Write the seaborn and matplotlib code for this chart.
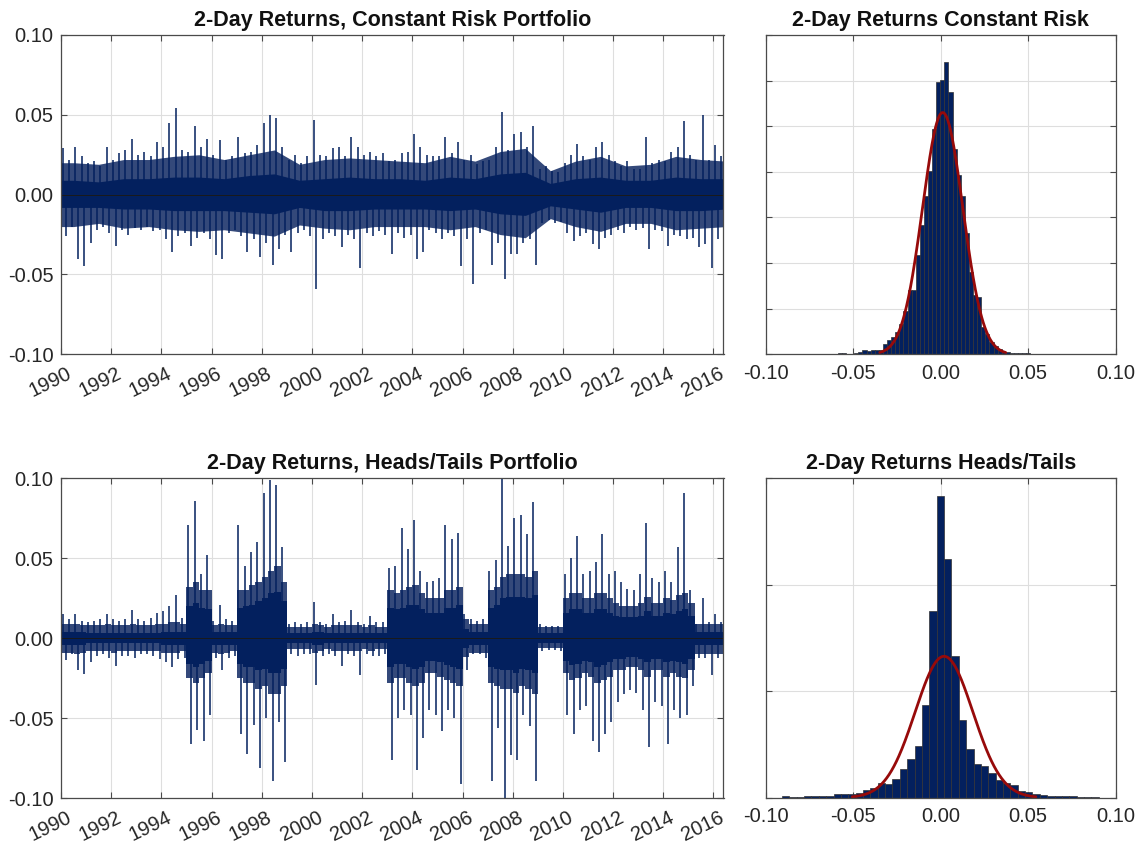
import numpy as np
import pandas as pd
import matplotlib
matplotlib.use("Agg")
import matplotlib.pyplot as plt
import seaborn as sns
from matplotlib.transforms import ScaledTranslation

# ---------------- data ----------------
# quarterly extremes of the 2-day return series, 1990Q1 .. 2016Q2
cr_hi = [0.029, 0.022, 0.030, 0.024, 0.020, 0.021, 0.018, 0.030, 0.022, 0.026,
         0.028, 0.035, 0.025, 0.027, 0.024, 0.033, 0.030, 0.045, 0.054, 0.028,
         0.027, 0.043, 0.030, 0.035, 0.025, 0.034, 0.022, 0.024, 0.036, 0.026,
         0.027, 0.031, 0.045, 0.050, 0.048, 0.030, 0.022, 0.025, 0.020, 0.024,
         0.047, 0.025, 0.024, 0.029, 0.030, 0.024, 0.036, 0.030, 0.025, 0.027,
         0.024, 0.026, 0.021, 0.022, 0.026, 0.027, 0.038, 0.030, 0.025, 0.024,
         0.024, 0.036, 0.026, 0.033, 0.022, 0.025, 0.019, 0.021, 0.022, 0.030,
         0.052, 0.028, 0.038, 0.039, 0.030, 0.043, 0.016, 0.018, 0.015, 0.014,
         0.020, 0.025, 0.032, 0.024, 0.022, 0.030, 0.033, 0.025, 0.021, 0.018,
         0.021, 0.016, 0.016, 0.036, 0.020, 0.022, 0.021, 0.027, 0.030, 0.046,
         0.025, 0.022, 0.050, 0.022, 0.031, 0.024]
cr_lo = [-0.026, -0.020, -0.040, -0.045, -0.030, -0.022, -0.020, -0.024, -0.032, -0.022,
         -0.025, -0.021, -0.022, -0.020, -0.023, -0.022, -0.028, -0.036, -0.026, -0.024,
         -0.032, -0.027, -0.024, -0.028, -0.038, -0.040, -0.024, -0.022, -0.026, -0.036,
         -0.028, -0.039, -0.030, -0.044, -0.034, -0.025, -0.036, -0.024, -0.022, -0.026,
         -0.059, -0.028, -0.024, -0.026, -0.033, -0.025, -0.028, -0.046, -0.024, -0.026,
         -0.023, -0.025, -0.037, -0.024, -0.027, -0.025, -0.040, -0.036, -0.022, -0.024,
         -0.028, -0.024, -0.026, -0.045, -0.028, -0.056, -0.024, -0.022, -0.044, -0.030,
         -0.053, -0.037, -0.037, -0.030, -0.028, -0.044, -0.018, -0.016, -0.018, -0.017,
         -0.024, -0.029, -0.026, -0.024, -0.031, -0.034, -0.027, -0.025, -0.022, -0.024,
         -0.020, -0.022, -0.021, -0.034, -0.022, -0.023, -0.032, -0.025, -0.026, -0.028,
         -0.027, -0.033, -0.031, -0.046, -0.028, -0.026]
# constant-risk series, one value per year 1990..2016: solid core and busy middle zone
cr_core_hi = [0.009, 0.008, 0.010, 0.010, 0.011, 0.011, 0.010, 0.012, 0.013, 0.009,
              0.010, 0.011, 0.010, 0.010, 0.009, 0.011, 0.010, 0.013, 0.014, 0.007,
              0.010, 0.011, 0.009, 0.009, 0.011, 0.010, 0.010]
cr_core_lo = [-0.008, -0.008, -0.009, -0.009, -0.010, -0.010, -0.010, -0.011, -0.012, -0.008,
              -0.010, -0.010, -0.009, -0.009, -0.009, -0.010, -0.009, -0.012, -0.013, -0.007,
              -0.009, -0.011, -0.008, -0.008, -0.010, -0.010, -0.009]
cr_mid_hi = [0.020, 0.019, 0.022, 0.022, 0.024, 0.025, 0.022, 0.025, 0.028, 0.019,
             0.022, 0.023, 0.022, 0.021, 0.020, 0.024, 0.021, 0.027, 0.029, 0.015,
             0.021, 0.024, 0.018, 0.019, 0.024, 0.022, 0.021]
cr_mid_lo = [-0.020, -0.018, -0.021, -0.020, -0.022, -0.023, -0.022, -0.024, -0.026, -0.019,
             -0.021, -0.022, -0.020, -0.020, -0.020, -0.022, -0.020, -0.025, -0.027, -0.015,
             -0.020, -0.023, -0.018, -0.018, -0.022, -0.021, -0.020]

ht_hi = [0.015, 0.012, 0.015, 0.011, 0.010, 0.011, 0.012, 0.015, 0.012, 0.011,
         0.012, 0.018, 0.012, 0.011, 0.013, 0.016, 0.017, 0.020, 0.027, 0.013,
         0.071, 0.086, 0.040, 0.052,
         0.011, 0.021, 0.012, 0.011,
         0.071, 0.045, 0.054, 0.060, 0.091, 0.099, 0.096, 0.057,
         0.009, 0.010, 0.009, 0.010, 0.023, 0.010, 0.009, 0.015, 0.010, 0.011,
         0.018, 0.010, 0.009, 0.014, 0.010, 0.010,
         0.044, 0.045, 0.069, 0.056, 0.074, 0.042, 0.035, 0.036, 0.038, 0.071,
         0.062, 0.066, 0.015,
         0.012, 0.011, 0.012,
         0.042, 0.049, 0.105, 0.058, 0.075, 0.077, 0.065, 0.085,
         0.009, 0.008, 0.008, 0.008,
         0.040, 0.050, 0.064, 0.040, 0.042, 0.048, 0.065, 0.040, 0.042, 0.035,
         0.031, 0.030, 0.040, 0.072, 0.038, 0.035, 0.042, 0.035, 0.057, 0.091,
         0.030,
         0.009, 0.025, 0.010, 0.015, 0.010]
ht_lo = [-0.0135, -0.010, -0.020, -0.0225, -0.015, -0.011, -0.010, -0.012, -0.017, -0.011,
         -0.011, -0.012, -0.010, -0.010, -0.011, -0.013, -0.015, -0.018, -0.013, -0.012,
         -0.066, -0.057, -0.064, -0.048,
         -0.012, -0.020, -0.012, -0.011,
         -0.060, -0.072, -0.054, -0.081, -0.050, -0.089, -0.052, -0.077,
         -0.010, -0.011, -0.010, -0.010, -0.029, -0.011, -0.010, -0.011, -0.017, -0.010,
         -0.011, -0.023, -0.010, -0.011, -0.011, -0.010,
         -0.076, -0.050, -0.045, -0.048, -0.082, -0.062, -0.045, -0.048, -0.058, -0.045,
         -0.050, -0.091, -0.020,
         -0.010, -0.010, -0.012,
         -0.089, -0.056, -0.105, -0.073, -0.076, -0.048, -0.055, -0.089,
         -0.008, -0.007, -0.007, -0.008,
         -0.048, -0.060, -0.045, -0.042, -0.064, -0.071, -0.060, -0.052, -0.040, -0.035,
         -0.032, -0.034, -0.045, -0.068, -0.040, -0.042, -0.066, -0.045, -0.050, -0.048,
         -0.030,
         -0.0125, -0.012, -0.023, -0.012, -0.012]
# heads/tails series, one value per quarter: busy middle zone and solid core
ht_mid_hi = [0.009, 0.009, 0.009, 0.008, 0.008, 0.008, 0.008, 0.009, 0.008, 0.008,
             0.008, 0.009, 0.008, 0.008, 0.008, 0.009, 0.009, 0.010, 0.010, 0.009,
             0.032, 0.035, 0.030, 0.030,
             0.008, 0.009, 0.008, 0.008,
             0.030, 0.030, 0.033, 0.035, 0.038, 0.042, 0.045, 0.035,
             0.007, 0.007, 0.007, 0.007, 0.009, 0.008, 0.007, 0.008, 0.008, 0.008,
             0.008, 0.008, 0.007, 0.008, 0.007, 0.007,
             0.030, 0.028, 0.030, 0.032, 0.033, 0.028, 0.025, 0.025, 0.025, 0.030,
             0.030, 0.032, 0.012,
             0.009, 0.009, 0.009,
             0.030, 0.032, 0.038, 0.040, 0.040, 0.040, 0.038, 0.042,
             0.007, 0.007, 0.007, 0.007,
             0.025, 0.028, 0.028, 0.025, 0.025, 0.028, 0.028, 0.025, 0.022, 0.020,
             0.020, 0.020, 0.022, 0.026, 0.022, 0.022, 0.025, 0.024, 0.027, 0.028,
             0.022,
             0.009, 0.009, 0.009, 0.009, 0.009]
ht_mid_lo = [-0.009, -0.009, -0.010, -0.009, -0.008, -0.008, -0.008, -0.008, -0.009, -0.008,
             -0.008, -0.008, -0.008, -0.008, -0.008, -0.008, -0.009, -0.009, -0.009, -0.008,
             -0.025, -0.028, -0.025, -0.022,
             -0.009, -0.010, -0.009, -0.008,
             -0.025, -0.028, -0.028, -0.032, -0.030, -0.035, -0.035, -0.030,
             -0.007, -0.007, -0.007, -0.007, -0.009, -0.008, -0.007, -0.008, -0.008, -0.008,
             -0.008, -0.008, -0.007, -0.008, -0.007, -0.007,
             -0.028, -0.025, -0.025, -0.028, -0.030, -0.028, -0.022, -0.022, -0.024, -0.026,
             -0.028, -0.030, -0.012,
             -0.009, -0.009, -0.009,
             -0.028, -0.030, -0.032, -0.032, -0.034, -0.030, -0.032, -0.035,
             -0.006, -0.006, -0.006, -0.006,
             -0.022, -0.026, -0.025, -0.022, -0.024, -0.028, -0.026, -0.024, -0.020, -0.020,
             -0.018, -0.018, -0.020, -0.024, -0.020, -0.020, -0.024, -0.022, -0.024, -0.025,
             -0.020,
             -0.010, -0.010, -0.010, -0.010, -0.010]
ht_core_hi = [0.004, 0.004, 0.004, 0.004, 0.003, 0.003, 0.003, 0.003, 0.003, 0.003,
              0.003, 0.003, 0.003, 0.003, 0.003, 0.003, 0.004, 0.004, 0.004, 0.004,
              0.020, 0.022, 0.019, 0.018,
              0.004, 0.004, 0.004, 0.004,
              0.019, 0.020, 0.021, 0.023, 0.025, 0.028, 0.029, 0.023,
              0.003, 0.003, 0.003, 0.003, 0.004, 0.004, 0.003, 0.003, 0.003, 0.003,
              0.003, 0.003, 0.003, 0.003, 0.003, 0.003,
              0.019, 0.018, 0.019, 0.021, 0.021, 0.018, 0.016, 0.016, 0.016, 0.019,
              0.019, 0.021, 0.006,
              0.004, 0.004, 0.004,
              0.019, 0.021, 0.025, 0.026, 0.026, 0.026, 0.025, 0.027,
              0.003, 0.003, 0.003, 0.003,
              0.016, 0.018, 0.018, 0.016, 0.016, 0.018, 0.018, 0.016, 0.014, 0.013,
              0.013, 0.013, 0.014, 0.017, 0.014, 0.014, 0.016, 0.015, 0.017, 0.018,
              0.014,
              0.004, 0.004, 0.004, 0.004, 0.004]
ht_core_lo = [-0.004, -0.004, -0.004, -0.004, -0.003, -0.003, -0.003, -0.003, -0.003, -0.003,
              -0.003, -0.003, -0.003, -0.003, -0.003, -0.003, -0.004, -0.004, -0.004, -0.004,
              -0.016, -0.018, -0.016, -0.014,
              -0.004, -0.004, -0.004, -0.004,
              -0.016, -0.018, -0.018, -0.020, -0.019, -0.022, -0.022, -0.019,
              -0.003, -0.003, -0.003, -0.003, -0.004, -0.004, -0.003, -0.003, -0.003, -0.003,
              -0.003, -0.003, -0.003, -0.003, -0.003, -0.003,
              -0.018, -0.016, -0.016, -0.018, -0.019, -0.018, -0.014, -0.014, -0.015, -0.017,
              -0.018, -0.019, -0.006,
              -0.004, -0.004, -0.004,
              -0.018, -0.019, -0.020, -0.020, -0.022, -0.019, -0.020, -0.022,
              -0.003, -0.003, -0.003, -0.003,
              -0.014, -0.017, -0.016, -0.014, -0.015, -0.018, -0.017, -0.015, -0.013, -0.013,
              -0.012, -0.012, -0.013, -0.015, -0.013, -0.013, -0.015, -0.014, -0.015, -0.016,
              -0.013,
              -0.004, -0.004, -0.004, -0.004, -0.004]

# histograms: counts per bin
cr_counts = [2, 2, 1, 1, 3, 5, 9, 8, 9, 9, 9, 23, 32, 37, 49, 67, 95, 140, 142,
             218, 284, 346, 401, 495, 598, 601, 641,
             574, 450, 394, 346, 266, 181, 130, 125, 60, 45, 27, 18, 11, 6, 4, 3, 2, 2, 3, 2, 1]
cr_edge0, cr_binw = -0.05874, 0.00234
cr_fit_mean, cr_fit_sd, cr_fit_peak, cr_fit_span = 0.00114, 0.0115, 530, 3.13

ht_counts = [6, 3, 2, 6, 6, 8, 9, 16, 19, 19, 20, 34, 45, 69, 66, 86, 136, 181, 242,
             437, 877, 1417, 1119, 664, 364, 227, 159, 150, 116, 84, 69, 59, 30, 27,
             16, 14, 8, 6, 8, 6, 3, 3, 2]
ht_edge0, ht_binw = -0.0907, 0.00421
ht_fit_mean, ht_fit_sd, ht_fit_peak, ht_fit_span = 0.0019, 0.0165, 664, 3.18

year_ticks = list(range(1990, 2017, 2))
ret_ticks = [-0.10, -0.05, 0.00, 0.05, 0.10]
ret_labels = ["-0.10", "-0.05", "0.00", "0.05", "0.10"]

titles = ["2-Day Returns, Constant Risk Portfolio", "2-Day Returns Constant Risk",
          "2-Day Returns, Heads/Tails Portfolio", "2-Day Returns Heads/Tails"]

# ---------------- style ----------------
sns.set_theme(style="white")
plt.rcParams["font.family"] = ["Liberation Sans", "DejaVu Sans"]
plt.rcParams["axes.unicode_minus"] = False

NAVY = "#03205e"
MIDNAVY = "#34497a"
RED = "#970a0a"
SPINE = "#4a4a4a"
GRID = "#dedede"
TXT = "#262626"

W, H = 1140, 846
fig = plt.figure(figsize=(W / 100, H / 100), dpi=100)


def rect(x0, y0, x1, y1):
    return [x0 / W, (H - y1) / H, (x1 - x0) / W, (y1 - y0) / H]


ax_tl = fig.add_axes(rect(61, 35, 723.5, 354.3))
ax_tr = fig.add_axes(rect(765.7, 35, 1115.7, 354.3))
ax_bl = fig.add_axes(rect(61, 478.3, 723.5, 798.3))
ax_br = fig.add_axes(rect(765.7, 478.3, 1115.7, 797.7))


def style(ax):
    for s in ax.spines.values():
        s.set_visible(True)
        s.set_color(SPINE)
        s.set_linewidth(0.9)
    ax.tick_params(direction="in", length=4.5, width=0.8, color=SPINE,
                   top=True, right=True, bottom=True, left=True,
                   labelsize=14.5, labelcolor=TXT)
    ax.tick_params(axis="y", pad=5.5)
    ax.tick_params(axis="x", pad=7.0)
    ax.grid(True, color=GRID, linewidth=0.8)
    ax.set_axisbelow(True)
    ax.set_xlabel("")
    ax.set_ylabel("")


def band(ax, xs, top, bot, color, step):
    if step:
        x = np.r_[xs, xs[-1] + 0.25]
        ax.fill_between(x, np.r_[top, top[-1]], np.r_[bot, bot[-1]], step="post",
                        color=color, linewidth=0)
    else:
        x = np.r_[1990, xs, 2016.5]
        ax.fill_between(x, np.r_[top[0], top, top[-1]], np.r_[bot[0], bot, bot[-1]],
                        color=color, linewidth=0)


def series(ax, hi, lo, band_x, mid_hi, mid_lo, core_hi, core_lo, step):
    q0 = 1990 + np.arange(len(hi)) / 4
    band(ax, band_x, mid_hi, mid_lo, MIDNAVY, step)
    band(ax, band_x, core_hi, core_lo, NAVY, step)
    ax.vlines(q0 + 0.07, 0, hi, color=NAVY, linewidth=1.1)
    ax.vlines(q0 + 0.18, lo, 0, color=NAVY, linewidth=1.1)
    ax.axhline(0, color="#1a1a1a", linewidth=0.7)
    ax.set_xlim(1990, 2016.4)
    ax.set_ylim(-0.10, 0.10)
    ax.set_yticks(ret_ticks)
    ax.set_yticklabels(ret_labels)
    ax.set_xticks(year_ticks)
    ax.set_xticklabels([str(y) for y in year_ticks], rotation=26, ha="right",
                       va="top", rotation_mode="anchor")


def hist(ax, counts, edge0, binw, mean, sd, peak, span, ytop, ystep):
    n = len(counts)
    df = pd.DataFrame({"ret": edge0 + binw * (np.arange(n) + 0.5),
                       "n": np.asarray(counts, dtype=float)})
    sns.histplot(data=df, x="ret", weights="n", binwidth=binw,
                 binrange=(edge0, edge0 + n * binw), ax=ax, color=NAVY,
                 edgecolor="#333333", linewidth=0.5, alpha=1.0)
    xs = np.linspace(mean - span * sd, mean + span * sd, 300)
    ys = peak * np.exp(-0.5 * ((xs - mean) / sd) ** 2)
    sns.lineplot(x=xs, y=ys, ax=ax, color=RED, linewidth=2.0)
    ax.set_xlim(-0.10, 0.10)
    ax.set_ylim(0, ytop)
    ax.set_yticks(np.arange(0, ytop + 1, ystep))
    ax.set_yticklabels([])
    ax.set_xticks(ret_ticks)
    ax.set_xticklabels(ret_labels)


cr_year_mid = 1990.5 + np.arange(len(cr_core_hi))
ht_quarter = 1990 + np.arange(len(ht_core_hi)) / 4
series(ax_tl, cr_hi, cr_lo, cr_year_mid, cr_mid_hi, cr_mid_lo, cr_core_hi, cr_core_lo, step=False)
series(ax_bl, ht_hi, ht_lo, ht_quarter, ht_mid_hi, ht_mid_lo, ht_core_hi, ht_core_lo, step=True)
hist(ax_tr, cr_counts, cr_edge0, cr_binw, cr_fit_mean, cr_fit_sd, cr_fit_peak, cr_fit_span, 700, 100)
hist(ax_br, ht_counts, ht_edge0, ht_binw, ht_fit_mean, ht_fit_sd, ht_fit_peak, ht_fit_span, 1500, 500)

for ax, t in zip([ax_tl, ax_tr, ax_bl, ax_br], titles):
    style(ax)
    ax.set_title(t, fontsize=15.5, fontweight="bold", color="#111111", pad=6.7)

off = ScaledTranslation(5 / 100, 0, fig.dpi_scale_trans)
for ax in (ax_tl, ax_bl):
    for lab in ax.get_xticklabels():
        lab.set_transform(lab.get_transform() + off)

fig.savefig("out.png", dpi=100)
